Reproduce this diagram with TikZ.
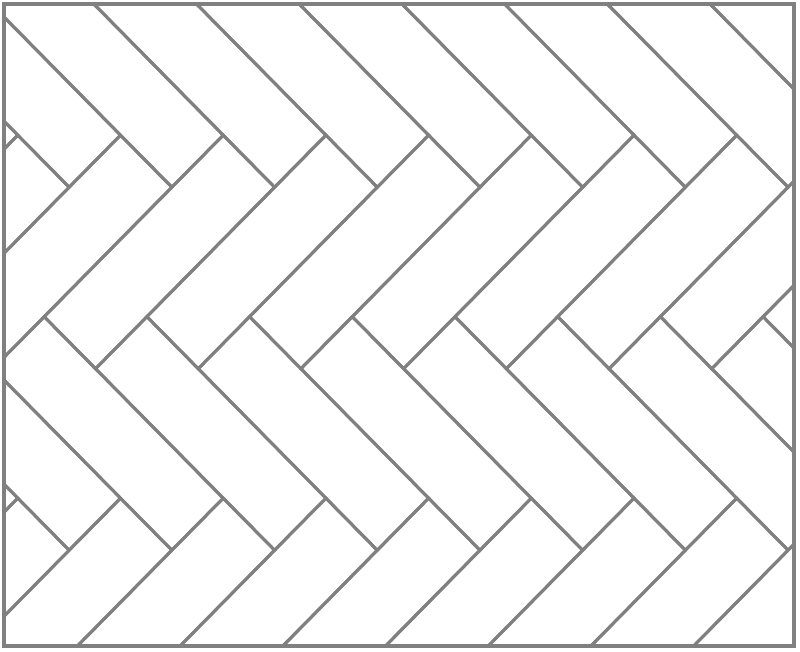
\documentclass[tikz,border=0pt]{standalone}
\definecolor{tileline}{RGB}{128,128,128}
\begin{document}
\begin{tikzpicture}[x=1bp,y=-1bp,
  brick/.style={draw=tileline,line width=3bp,line join=miter},
  frameline/.style={draw=tileline,line width=4bp}]
\useasboundingbox (0,0) rectangle (800,652);
% c: half horizontal period; d: vertical drop of a short edge
% (lx,ly): long edge of a brick; T: vertical period
\def\c{51.35}
\def\d{52.0}
\def\lx{179}
\def\ly{181.5}
\def\T{363}
\def\xo{120.5}
\def\yo{135.2}
\begin{scope}
\clip (3.7,3.7) rectangle (794,646);
\foreach \r in {-1,0,1,2}{
  \foreach \k in {-9,...,3}{
    \pgfmathsetmacro{\px}{\xo-\k*2*\c}
    \pgfmathsetmacro{\py}{\yo+\r*\T}
    \draw[brick] (\px,\py) -- ++(-\c,\d) -- ++(-\lx,-\ly) -- ++(\c,-\d) -- cycle;
    \draw[brick] (\px,\py) -- ++(\c,\d) -- ++(-\lx,\ly) -- ++(-\c,-\d) -- cycle;
  }
}
\end{scope}
\draw[frameline] (3.7,3.7) rectangle (794,646);
\end{tikzpicture}
\end{document}
